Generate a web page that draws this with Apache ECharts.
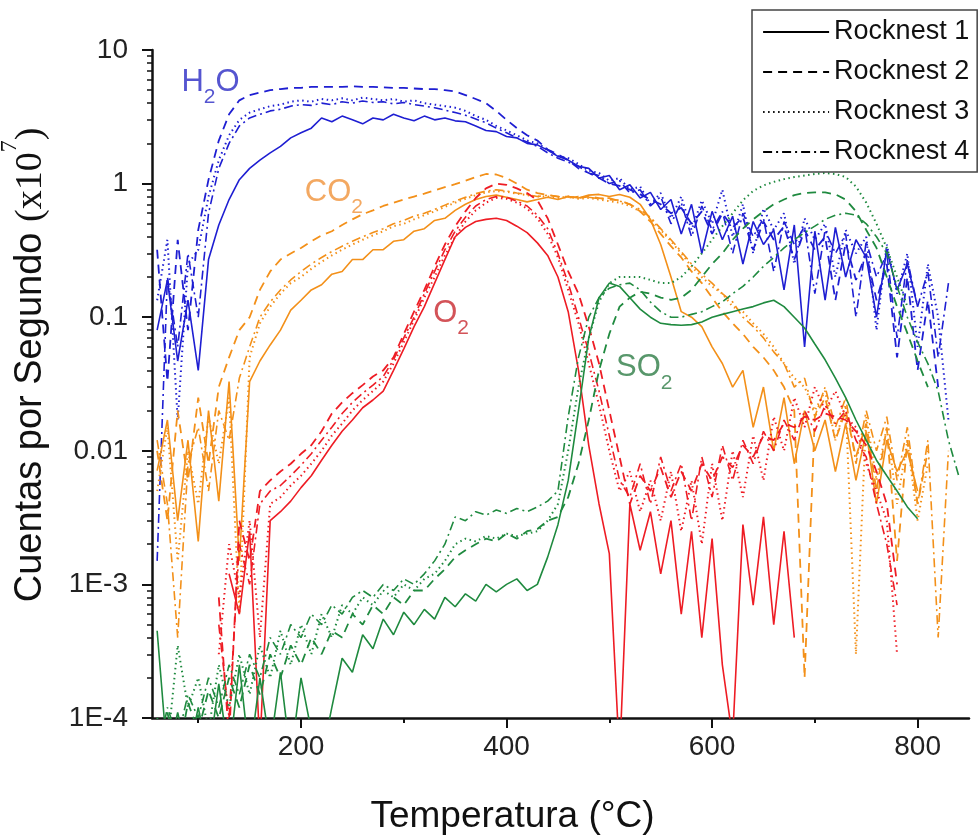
<!DOCTYPE html>
<html>
<head>
<meta charset="utf-8">
<title>Rocknest EGA</title>
<script src="https://cdn.jsdelivr.net/npm/echarts@6/dist/echarts.min.js"></script>
<style>
  html, body { margin: 0; padding: 0; background: #fff; }
  #chart { width: 979px; height: 835px; }
</style>
</head>
<body>
<div id="chart"></div>
<script>
// temperatures (°C) shared by every trace
const TEMPS = [
  60, 70, 80, 90, 100, 110, 120, 130, 140, 150,
  160, 170, 180, 190, 200, 210, 220, 230, 240, 250,
  260, 270, 280, 290, 300, 310, 320, 330, 340, 350,
  360, 370, 380, 390, 400, 410, 420, 430, 440, 450,
  460, 470, 480, 490, 500, 510, 520, 530, 540, 550,
  560, 570, 580, 590, 600, 610, 620, 630, 640, 650,
  660, 670, 680, 690, 700, 710, 720, 730, 740, 750,
  760, 770, 780, 790, 800, 810, 820, 830, 840
];

const SAMPLES = ['Rocknest 1', 'Rocknest 2', 'Rocknest 3', 'Rocknest 4'];

// counts per second (x10^7), rows: 60-150, 160-250, ..., 760-840
const H2O_R1 = [
  0.08, 0.19, 0.047, 0.134, 0.04, 0.27, 0.49, 0.76, 1.07, 1.3,
  1.5, 1.7, 1.9, 2.2, 2.4, 2.6, 3.1, 2.9, 3.2, 3.0,
  2.8, 3.1, 3.0, 3.3, 3.1, 2.95, 3.2, 3.0, 3.1, 2.95,
  2.9, 2.7, 2.5, 2.45, 2.25, 2.2, 2.0, 1.95, 1.78, 1.6,
  1.5, 1.35, 1.3, 1.1, 1.15, 0.9, 0.98, 0.78, 0.86, 0.64,
  0.76, 0.42, 0.7, 0.3, 0.62, 0.38, 0.57, 0.25, 0.52, 0.35,
  0.45, 0.16, 0.49, 0.06, 0.44, 0.134, 0.47, 0.2, 0.38, 0.28,
  0.1, 0.32, 0.16, 0.25, 0.12, null, null, null, null
];
const H2O_R2 = [
  0.32, 0.033, 0.38, 0.08, 0.45, 1.07, 2.1, 3.3, 4.2, 4.6,
  4.8, 5.0, 5.1, 5.2, 5.2, 5.3, 5.3, 5.3, 5.3, 5.35,
  5.3, 5.3, 5.25, 5.2, 5.2, 5.15, 5.1, 5.1, 5.0, 4.9,
  4.6, 4.3, 4.0, 3.5, 3.0, 2.6, 2.3, 2.1, 1.8, 1.65,
  1.5, 1.3, 1.2, 1.1, 1.0, 0.96, 0.9, 0.83, 0.76, 0.7,
  0.6, 0.66, 0.5, 0.62, 0.42, 0.6, 0.47, 0.56, 0.32, 0.52,
  0.38, 0.48, 0.27, 0.45, 0.32, 0.4, 0.134, 0.36, 0.19, 0.3,
  0.134, 0.25, 0.05, 0.2, 0.04, 0.134, 0.03, null, null
];
const H2O_R3 = [
  0.134, 0.38, 0.017, 0.25, 0.32, 0.8, 1.5, 2.3, 3.0, 3.4,
  3.6, 3.8, 3.9, 4.1, 4.2, 4.1, 4.3, 4.2, 4.35, 4.2,
  4.4, 4.3, 4.2, 4.3, 4.1, 4.2, 4.0, 3.9, 3.8, 3.7,
  3.5, 3.2, 3.0, 2.7, 2.5, 2.3, 2.1, 2.0, 1.8, 1.6,
  1.55, 1.4, 1.25, 1.2, 1.05, 1.1, 0.9, 0.95, 0.7, 0.85,
  0.55, 0.8, 0.45, 0.75, 0.5, 0.9, 0.4, 0.7, 0.3, 0.65,
  0.45, 0.6, 0.25, 0.55, 0.38, 0.5, 0.2, 0.45, 0.3, 0.4,
  0.08, 0.35, 0.15, 0.3, 0.06, 0.25, 0.1, 0.017, null
];
const H2O_R4 = [
  0.0015, 0.2, 0.06, 0.3, 0.1, 0.6, 1.3, 2.0, 2.7, 3.1,
  3.3, 3.5, 3.6, 3.8, 3.9, 3.85, 4.0, 3.9, 4.1, 4.0,
  4.15, 4.05, 4.1, 3.95, 4.05, 3.9, 3.8, 3.7, 3.55, 3.4,
  3.25, 3.05, 2.85, 2.6, 2.4, 2.2, 2.05, 1.9, 1.7, 1.55,
  1.45, 1.35, 1.2, 1.15, 1.0, 1.05, 0.85, 0.9, 0.68, 0.8,
  0.5, 0.72, 0.4, 0.68, 0.45, 0.62, 0.3, 0.6, 0.4, 0.55,
  0.22, 0.52, 0.35, 0.48, 0.15, 0.45, 0.3, 0.42, 0.1, 0.37,
  0.2, 0.3, 0.07, 0.27, 0.12, 0.22, 0.05, 0.18, null
];

const CO2_R1 = [
  0.0071, 0.017, 0.003, 0.012, 0.0021, 0.02, 0.0042, 0.033, 0.0015, 0.033,
  0.047, 0.062, 0.08, 0.113, 0.134, 0.16, 0.175, 0.21, 0.22, 0.27,
  0.27, 0.32, 0.32, 0.37, 0.38, 0.44, 0.46, 0.53, 0.55, 0.63,
  0.7, 0.76, 0.8, 0.82, 0.79, 0.76, 0.73, 0.76, 0.79, 0.76,
  0.8, 0.78, 0.82, 0.83, 0.8, 0.83, 0.79, 0.7, 0.54, 0.35,
  0.2, 0.11, 0.1, 0.085, 0.06, 0.045, 0.03, 0.04, 0.015, 0.03,
  0.01, 0.025, 0.008, 0.02, 0.01, 0.017, 0.007, 0.016, 0.006, 0.014,
  0.004, 0.012, 0.007, 0.01, 0.005, null, null, null, null
];
const CO2_R2 = [
  0.01, 0.003, 0.02, 0.006, 0.025, 0.008, 0.03, 0.05, 0.08, 0.1,
  0.16, 0.22, 0.27, 0.3, 0.33, 0.37, 0.41, 0.44, 0.49, 0.54,
  0.59, 0.63, 0.68, 0.72, 0.76, 0.8, 0.84, 0.89, 0.94, 0.99,
  1.05, 1.12, 1.18, 1.17, 1.1, 1.0, 0.9, 0.85, 0.82, 0.8,
  0.8, 0.78, 0.8, 0.78, 0.76, 0.75, 0.7, 0.62, 0.52, 0.42,
  0.34, 0.28, 0.22, 0.18, 0.14, 0.11, 0.09, 0.075, 0.06, 0.05,
  0.04, 0.03, 0.02, 0.0002, 0.018, 0.025, 0.012, 0.02, 0.009, 0.016,
  0.005, 0.015, 0.0015, 0.012, 0.004, 0.01, null, null, null
];
const CO2_R3 = [
  0.005, 0.015, 0.0015, 0.01, 0.004, 0.018, 0.008, 0.025, 0.0006, 0.05,
  0.09, 0.12, 0.15, 0.18, 0.2, 0.23, 0.26, 0.29, 0.32, 0.35,
  0.38, 0.41, 0.44, 0.48, 0.5, 0.54, 0.58, 0.62, 0.67, 0.72,
  0.77, 0.82, 0.86, 0.88, 0.87, 0.84, 0.82, 0.8, 0.8, 0.78,
  0.8, 0.77, 0.78, 0.76, 0.74, 0.72, 0.68, 0.62, 0.55, 0.45,
  0.37, 0.3, 0.24, 0.2, 0.17, 0.15, 0.12, 0.11, 0.09, 0.075,
  0.06, 0.045, 0.035, 0.03, 0.02, 0.028, 0.012, 0.022, 0.0003, 0.018,
  0.006, 0.015, 0.004, 0.012, 0.003, 0.008, null, null, null
];
const CO2_R4 = [
  0.012, 0.004, 0.0004, 0.008, 0.015, 0.005, 0.02, 0.012, 0.035, 0.06,
  0.1, 0.13, 0.16, 0.19, 0.22, 0.25, 0.28, 0.31, 0.34, 0.37,
  0.4, 0.43, 0.46, 0.5, 0.53, 0.57, 0.6, 0.64, 0.69, 0.74,
  0.79, 0.84, 0.88, 0.9, 0.88, 0.85, 0.83, 0.8, 0.82, 0.8,
  0.78, 0.8, 0.79, 0.77, 0.78, 0.74, 0.7, 0.64, 0.56, 0.46,
  0.38, 0.31, 0.25, 0.21, 0.18, 0.15, 0.13, 0.1, 0.085, 0.07,
  0.055, 0.045, 0.03, 0.035, 0.018, 0.03, 0.015, 0.025, 0.008, 0.02,
  0.01, 0.018, 0.006, 0.015, 0.004, 0.012, 0.0004, 0.01, null
];

const O2_R1 = [
  null, null, null, null, null, null, null, 0.0012, 0.0006, 0.0025,
  0.00006, 0.003, 0.0035, 0.0042, 0.0053, 0.0065, 0.0085, 0.011, 0.014, 0.017,
  0.021, 0.024, 0.028, 0.04, 0.058, 0.085, 0.12, 0.18, 0.27, 0.4,
  0.47, 0.52, 0.54, 0.55, 0.53, 0.48, 0.43, 0.36, 0.29, 0.2,
  0.11, 0.04, 0.011, 0.004, 0.0017, 0.00005, 0.004, 0.0018, 0.0035, 0.0012,
  0.003, 0.0006, 0.0025, 0.0004, 0.0022, 0.00025, 0.00007, 0.0028, 0.0007, 0.0032,
  0.0005, 0.0025, 0.0004, null, null, null, null, null, null, null,
  null, null, null, null, null, null, null, null, null
];
const O2_R2 = [
  null, null, null, null, null, null, 0.0008, 0.00007, 0.003, 0.0015,
  0.005, 0.006, 0.007, 0.008, 0.0095, 0.011, 0.014, 0.019, 0.023, 0.027,
  0.031, 0.036, 0.04, 0.05, 0.075, 0.11, 0.16, 0.24, 0.35, 0.48,
  0.62, 0.78, 0.92, 1.0, 0.98, 0.92, 0.85, 0.75, 0.55, 0.35,
  0.22, 0.15, 0.085, 0.045, 0.02, 0.009, 0.004, 0.0065, 0.005, 0.0075,
  0.0045, 0.007, 0.005, 0.008, 0.006, 0.009, 0.0075, 0.011, 0.009, 0.013,
  0.012, 0.016, 0.015, 0.018, 0.017, 0.019, 0.018, 0.017, 0.014, 0.011,
  0.007, 0.004, 0.001, null, null, null, null, null, null
];
const O2_R3 = [
  null, null, null, null, null, null, 0.0003, 0.002, 0.0008, 0.003,
  0.0004, 0.004, 0.0045, 0.0055, 0.0065, 0.008, 0.01, 0.013, 0.016, 0.02,
  0.024, 0.028, 0.033, 0.045, 0.065, 0.095, 0.14, 0.2, 0.29, 0.4,
  0.52, 0.63, 0.72, 0.78, 0.77, 0.72, 0.65, 0.55, 0.42, 0.28,
  0.16, 0.09, 0.045, 0.022, 0.01, 0.005, 0.007, 0.0035, 0.006, 0.003,
  0.007, 0.0025, 0.006, 0.002, 0.008, 0.003, 0.01, 0.0045, 0.013, 0.006,
  0.018, 0.01, 0.025, 0.015, 0.03, 0.02, 0.028, 0.018, 0.015, 0.008,
  0.005, 0.003, 0.0003, null, null, null, null, null, null
];
const O2_R4 = [
  null, null, null, null, null, null, 0.0005, 0.0001, 0.002, 0.001,
  0.004, 0.005, 0.0055, 0.0065, 0.0078, 0.0095, 0.012, 0.015, 0.019, 0.023,
  0.027, 0.031, 0.036, 0.048, 0.07, 0.1, 0.15, 0.22, 0.32, 0.44,
  0.56, 0.68, 0.76, 0.8, 0.79, 0.74, 0.68, 0.58, 0.46, 0.3,
  0.18, 0.1, 0.055, 0.028, 0.013, 0.006, 0.0045, 0.008, 0.004, 0.009,
  0.005, 0.008, 0.003, 0.009, 0.0045, 0.011, 0.006, 0.012, 0.008, 0.014,
  0.01, 0.017, 0.012, 0.02, 0.014, 0.022, 0.016, 0.02, 0.012, 0.009,
  0.004, 0.002, 0.0007, null, null, null, null, null, null
];

const SO2_R1 = [
  0.00045, 0.00005, 0.00011, 0.00005, 0.00012, 0.00005, 0.00018, 0.00005, 0.00025, 0.00005,
  0.0002, 0.00006, 0.00022, 0.00005, 0.0002, 0.00008, 0.00005, 0.00012, 0.00028, 0.00022,
  0.00042, 0.00033, 0.00055, 0.00042, 0.00062, 0.0005, 0.00065, 0.00055, 0.0008, 0.00068,
  0.00085, 0.00075, 0.001, 0.00088, 0.001, 0.0011, 0.0009, 0.001, 0.0016, 0.0028,
  0.006, 0.02, 0.07, 0.14, 0.18, 0.17, 0.14, 0.115, 0.1, 0.09,
  0.088, 0.087, 0.088, 0.092, 0.1, 0.105, 0.11, 0.115, 0.12, 0.128,
  0.134, 0.12, 0.1, 0.083, 0.063, 0.048, 0.035, 0.025, 0.017, 0.012,
  0.0085, 0.0065, 0.005, 0.0038, 0.0031, null, null, null, null
];
const SO2_R2 = [
  0.00005, 0.00011, 0.00005, 0.00013, 0.00008, 0.00016, 0.0001, 0.0002, 0.00012, 0.00025,
  0.00015, 0.0003, 0.0002, 0.00035, 0.00025, 0.0004, 0.0003, 0.00045, 0.0004, 0.0006,
  0.0005, 0.0007, 0.0006, 0.0008, 0.0007, 0.0009, 0.0009, 0.0011, 0.0013, 0.0016,
  0.0018, 0.002, 0.0022, 0.0021, 0.0024, 0.0022, 0.0025, 0.0026, 0.003, 0.0032,
  0.0045, 0.008, 0.017, 0.04, 0.075, 0.12, 0.14, 0.155, 0.15, 0.14,
  0.135, 0.14, 0.16, 0.2, 0.25, 0.3, 0.38, 0.46, 0.54, 0.62,
  0.7, 0.76, 0.82, 0.85, 0.86, 0.86, 0.83, 0.76, 0.62, 0.45,
  0.33, 0.2, 0.12, 0.076, 0.047, 0.03, null, null, null
];
const SO2_R3 = [
  0.0001, 0.00006, 0.00035, 0.00012, 0.0002, 0.00008, 0.00025, 0.00012, 0.0003, 0.00015,
  0.00035, 0.0002, 0.00045, 0.00025, 0.0005, 0.0003, 0.0006, 0.0004, 0.0007, 0.0006,
  0.0008, 0.0007, 0.0009, 0.0008, 0.001, 0.0009, 0.0011, 0.0012, 0.0015, 0.002,
  0.0022, 0.0021, 0.0023, 0.0022, 0.0024, 0.0023, 0.0024, 0.0025, 0.003, 0.004,
  0.01, 0.03, 0.07, 0.13, 0.18, 0.2, 0.2, 0.2, 0.19, 0.18,
  0.18, 0.2, 0.24, 0.3, 0.38, 0.48, 0.6, 0.75, 0.88, 0.97,
  1.03, 1.08, 1.12, 1.15, 1.18, 1.2, 1.18, 1.12, 0.95, 0.72,
  0.5, 0.33, 0.2, 0.12, null, null, null, null, null
];
const SO2_R4 = [
  0.00005, 0.00012, 0.00007, 0.00015, 0.0001, 0.0002, 0.00012, 0.00025, 0.00015, 0.0003,
  0.0002, 0.0004, 0.0003, 0.0005, 0.0004, 0.0006, 0.0005, 0.0007, 0.0006, 0.0008,
  0.0009, 0.0008, 0.001, 0.0009, 0.0011, 0.001, 0.0012, 0.0015, 0.002, 0.0032,
  0.003, 0.0035, 0.0033, 0.0036, 0.0034, 0.0037, 0.0035, 0.0038, 0.0042, 0.005,
  0.018, 0.05, 0.1, 0.14, 0.165, 0.175, 0.18, 0.16, 0.13, 0.11,
  0.1, 0.1, 0.105, 0.11, 0.12, 0.13, 0.15, 0.17, 0.2, 0.24,
  0.28, 0.33, 0.38, 0.43, 0.48, 0.54, 0.58, 0.6, 0.58, 0.5,
  0.4, 0.3, 0.17, 0.1, 0.065, 0.045, 0.028, 0.012, 0.0065
];

// gas name annotations: [temperature, counts]
const GAS_NAMES = ['H2O', 'CO2', 'O2', 'SO2'];
const GAS_LABEL_AT = [[112, 5.75], [232, 0.865], [346, 0.107], [534, 0.0417]];

const X_LABEL_TICKS = [200, 400, 600, 800];
const X_MINOR_TICKS = [100, 300, 500, 700];
const Y_TICKS = [0.0001, 0.001, 0.01, 0.1, 1, 10];
const Y_TICK_LABELS = ['1E-4', '1E-3', '0.01', '0.1', '1', '10'];
const Y_MINOR_TICKS = [
  0.0002, 0.0003, 0.0004, 0.0005, 0.0006, 0.0007, 0.0008, 0.0009,
  0.002, 0.003, 0.004, 0.005, 0.006, 0.007, 0.008, 0.009,
  0.02, 0.03, 0.04, 0.05, 0.06, 0.07, 0.08, 0.09,
  0.2, 0.3, 0.4, 0.5, 0.6, 0.7, 0.8, 0.9,
  2, 3, 4, 5, 6, 7, 8, 9
];

const SANS = "'Liberation Sans', Arial, Helvetica, sans-serif";
const SERIF = "'Liberation Serif', 'Times New Roman', serif";

const GASES = [
  { key: 'H2O', color: '#1e1ed2', text: '#2b2bc4', rows: [H2O_R1, H2O_R2, H2O_R3, H2O_R4] },
  { key: 'CO2', color: '#f39019', text: '#f0923a', rows: [CO2_R1, CO2_R2, CO2_R3, CO2_R4] },
  { key: 'O2', color: '#ee1c24', text: '#c8282e', rows: [O2_R1, O2_R2, O2_R3, O2_R4] },
  { key: 'SO2', color: '#1f8a3f', text: '#2e7d46', rows: [SO2_R1, SO2_R2, SO2_R3, SO2_R4] }
];

const LINE_TYPES = [
  { type: 'solid', width: 1.6 },
  { type: [9, 6], width: 1.8 },
  { type: [1.5, 3.5], width: 2 },
  { type: [9, 4, 2, 4], width: 1.6 }
];

function pairs(values) {
  return TEMPS.map((t, i) => [t, values[i]]).filter((p) => p[1] !== null);
}

function gasLabel(name) {
  const m = name.match(/^([A-Z]+)2(.*)$/);
  return '{m|' + m[1] + '}{s|2}{m|' + m[2] + '}';
}

const series = [];
GASES.forEach((g) => {
  g.rows.forEach((vals, k) => {
    series.push({
      type: 'line',
      name: SAMPLES[k],
      data: pairs(vals),
      symbol: 'none',
      showSymbol: false,
      silent: true,
      clip: true,
      color: g.color,
      lineStyle: { color: g.color, width: LINE_TYPES[k].width, type: LINE_TYPES[k].type },
      z: 2
    });
  });
});

GASES.forEach((g, i) => {
  series.push({
    type: 'scatter',
    name: g.key,
    data: [GAS_LABEL_AT[i]],
    symbolSize: 0,
    silent: true,
    z: 5,
    label: {
      show: true,
      position: 'inside',
      offset: [0, 5],
      formatter: () => gasLabel(GAS_NAMES[i]),
      rich: {
        m: { fontSize: 31, fontFamily: SANS, color: g.text, lineHeight: 41, verticalAlign: 'top' },
        s: { fontSize: 21, fontFamily: SANS, color: g.text, lineHeight: 21, verticalAlign: 'bottom' }
      }
    }
  });
});

const chart = echarts.init(document.getElementById('chart'), null, { renderer: 'canvas' });

chart.setOption({
  backgroundColor: '#fff',
  animation: false,
  legend: {
    data: SAMPLES,
    orient: 'vertical',
    left: 752,
    top: 10,
    itemWidth: 66,
    itemHeight: 14,
    itemGap: 12,
    padding: [8, 8, 6, 10],
    borderColor: '#444',
    borderWidth: 1.5,
    selectedMode: false,
    lineStyle: { color: '#000', width: 2.2 },
    itemStyle: { color: '#000', opacity: 0, borderWidth: 0 },
    textStyle: { fontSize: 27, fontFamily: SANS, color: '#111', lineHeight: 28 }
  },
  grid: { left: 152, right: 10, top: 50, bottom: 117, containLabel: false, outerBoundsMode: 'none' },
  xAxis: [
    {
      type: 'value',
      min: 55,
      max: 850,
      splitLine: { show: false },
      axisLine: { show: true, lineStyle: { color: '#111', width: 2.5 } },
      axisTick: { show: true, customValues: X_LABEL_TICKS, length: 10, lineStyle: { color: '#111', width: 2 } },
      axisLabel: { customValues: X_LABEL_TICKS, fontSize: 28, fontFamily: SANS, color: '#222', margin: 15 },
      name: 'Temperatura (°C)',
      nameLocation: 'middle',
      nameGap: 80,
      nameTextStyle: { fontSize: 37, fontFamily: SANS, color: '#111', padding: [0, 96, 0, 0] }
    },
    {
      type: 'value',
      min: 55,
      max: 850,
      position: 'bottom',
      splitLine: { show: false },
      axisLine: { show: false },
      axisTick: { show: true, customValues: X_MINOR_TICKS, length: 5, lineStyle: { color: '#111', width: 2 } },
      axisLabel: { show: false }
    }
  ],
  yAxis: [
    {
      type: 'log',
      logBase: 10,
      min: 0.0001,
      max: 10,
      splitLine: { show: false },
      axisLine: { show: true, lineStyle: { color: '#111', width: 2.5 } },
      axisTick: { show: true, customValues: Y_TICKS, length: 10, lineStyle: { color: '#111', width: 2 } },
      axisLabel: {
        customValues: Y_TICKS,
        fontSize: 28,
        fontFamily: SANS,
        color: '#222',
        margin: 24,
        formatter: (v) => Y_TICK_LABELS[Math.round(Math.log10(v)) + 4]
      },
      name: '{a|Cuentas por Segundo }{b|(x10}{c|7}{b|)}',
      nameLocation: 'middle',
      nameGap: 102,
      nameTextStyle: {
        color: '#111',
        padding: [0, 0, 0, 38],
        rich: {
          a: { fontSize: 38, fontFamily: SANS, color: '#111', lineHeight: 52, verticalAlign: 'bottom' },
          b: { fontSize: 38, fontFamily: SERIF, color: '#111', lineHeight: 52, verticalAlign: 'bottom' },
          c: { fontSize: 24, fontFamily: SERIF, color: '#111', lineHeight: 24, verticalAlign: 'top' }
        }
      }
    },
    {
      type: 'log',
      logBase: 10,
      min: 0.0001,
      max: 10,
      position: 'left',
      splitLine: { show: false },
      axisLine: { show: false },
      axisTick: { show: true, customValues: Y_MINOR_TICKS, length: 5, lineStyle: { color: '#111', width: 1.5 } },
      axisLabel: { show: false }
    }
  ],
  series: series
});
</script>
</body>
</html>
